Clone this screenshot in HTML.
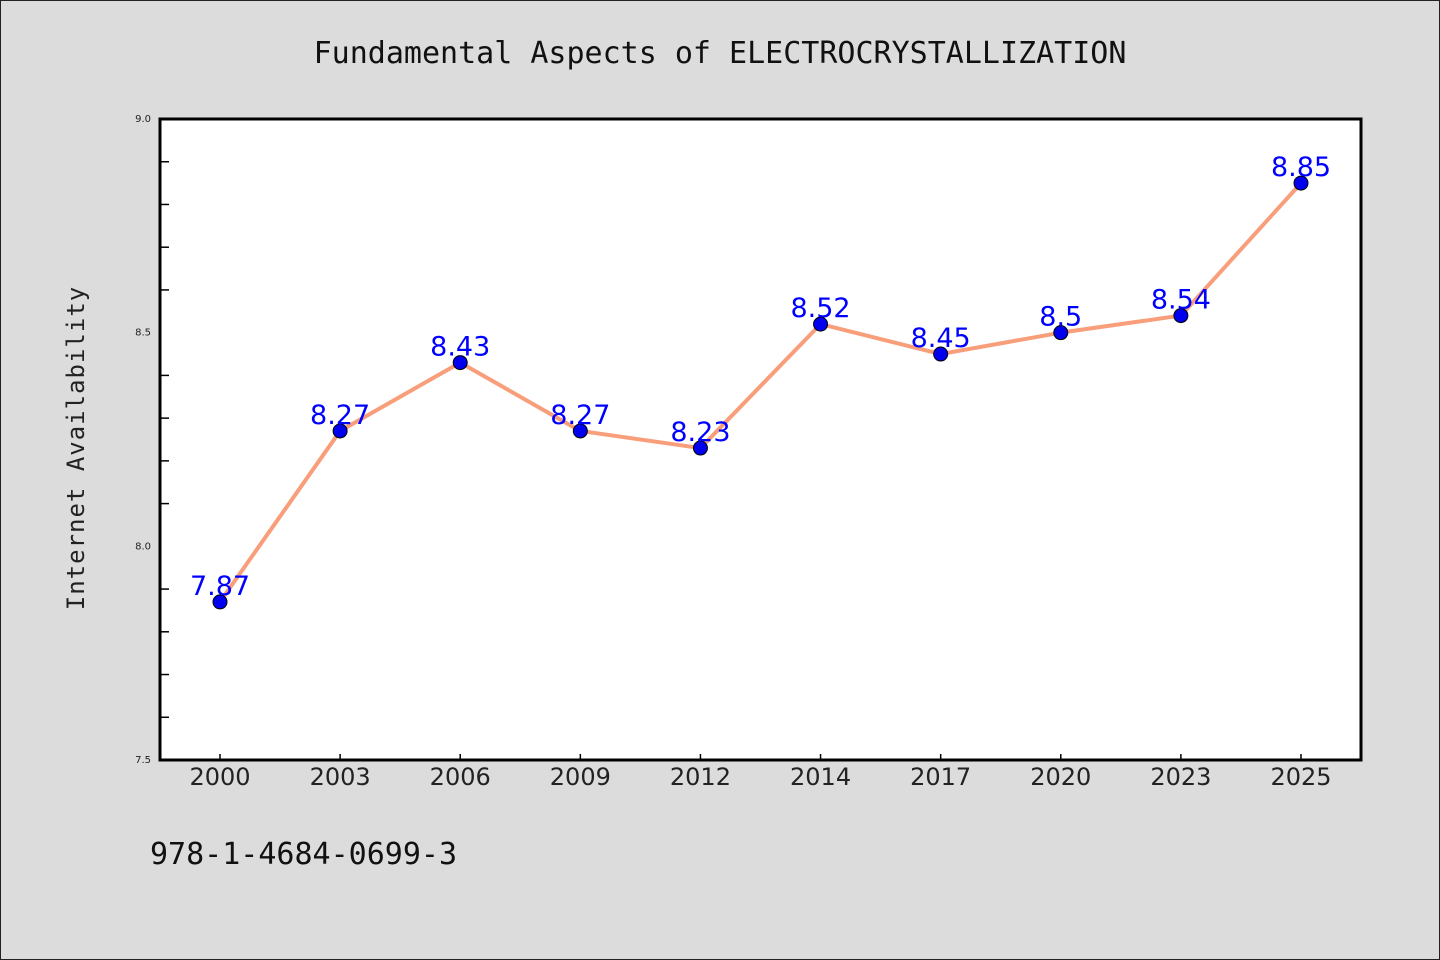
<!DOCTYPE html>
<html><head><meta charset="utf-8"><style>
html,body{margin:0;padding:0;background:#dcdcdc;}
svg{display:block;}
</style></head><body>
<svg width="1440" height="960" xmlns="http://www.w3.org/2000/svg">
<rect x="0.5" y="0.5" width="1439" height="959" fill="#dcdcdc" stroke="#222" stroke-width="1"/>
<text x="720" y="63" text-anchor="middle" font-family="'WenQuanYi Zen Hei','DejaVu Sans Mono',monospace" font-size="30" fill="#111">Fundamental Aspects of ELECTROCRYSTALLIZATION</text>
<rect x="160" y="119" width="1201" height="641" fill="#fff"/>
<g id="ticks"></g>
<g id="marks"></g>
<rect x="160" y="119" width="1201" height="641" fill="none" stroke="#000" stroke-width="3"/>
<text transform="translate(84,448) rotate(-90)" text-anchor="middle" font-family="'WenQuanYi Zen Hei','DejaVu Sans Mono',monospace" font-size="24" fill="#222" letter-spacing="1">Internet Availability</text>
<text x="150" y="864" font-family="'WenQuanYi Zen Hei','DejaVu Sans Mono',monospace" font-size="30" fill="#111">978-1-4684-0699-3</text>
</svg>
<script>
const categories = ["2000","2003","2006","2009","2012","2014","2017","2020","2023","2025"];
const values = [7.87,8.27,8.43,8.27,8.23,8.52,8.45,8.5,8.54,8.85];
const valueLabels = ["7.87","8.27","8.43","8.27","8.23","8.52","8.45","8.5","8.54","8.85"];
const yTickLabels = ["7.5","8.0","8.5","9.0"];
const yMin = 7.5, yMax = 9.0;
const NS = "http://www.w3.org/2000/svg";
const L=160,R=1361,T=119,B=760;
const xs = i => L + 60 + i*(R-L-120)/(categories.length-1);
const ys = v => B - (v-yMin)/(yMax-yMin)*(B-T);
function mk(tag, attrs, parent){const e=document.createElementNS(NS,tag);for(const k in attrs)e.setAttribute(k,attrs[k]);parent.appendChild(e);return e;}
const tg=document.getElementById('ticks'), mg=document.getElementById('marks');
for(let k=1;k<15;k++){const v=yMin+k*0.1; if(k%5===0) continue;
 const t=mk('line',{x1:L,x2:L+9,y1:ys(v),y2:ys(v),stroke:'#000','stroke-width':1.5},tg);
 
 }
yTickLabels.forEach(s=>{const v=parseFloat(s);
 const t=mk('text',{x:L-9,y:ys(v)+3,'text-anchor':'end','font-family':'DejaVu Sans, sans-serif','font-size':10,fill:'#222'},tg);t.textContent=s;
 
 });
categories.forEach((c,i)=>{
 const l=mk('line',{x1:xs(i),x2:xs(i),y1:B,y2:B-6,stroke:'#000','stroke-width':1.5},tg);
 
 
 const t=mk('text',{x:xs(i),y:B+25,'text-anchor':'middle','font-family':"'WenQuanYi Zen Hei','DejaVu Sans',sans-serif",'font-size':24,fill:'#222'},tg);t.textContent=c;
 
 });
const line=mk('polyline',{points:values.map((v,i)=>xs(i)+','+ys(v)).join(' '),fill:'none',stroke:'#f99e7a','stroke-width':4,'stroke-linejoin':'round'},mg);


values.forEach((v,i)=>{
 const c=mk('circle',{cx:xs(i),cy:ys(v),r:7,fill:'#0000ee',stroke:'#000','stroke-width':1},mg);
 
 
 const t=mk('text',{x:xs(i),y:ys(v)-7,'text-anchor':'middle','font-family':"'WenQuanYi Zen Hei','DejaVu Sans',sans-serif",'font-size':27,fill:'#0000ff'},mg);t.textContent=valueLabels[i];
 
 });
</script>
</body></html>
